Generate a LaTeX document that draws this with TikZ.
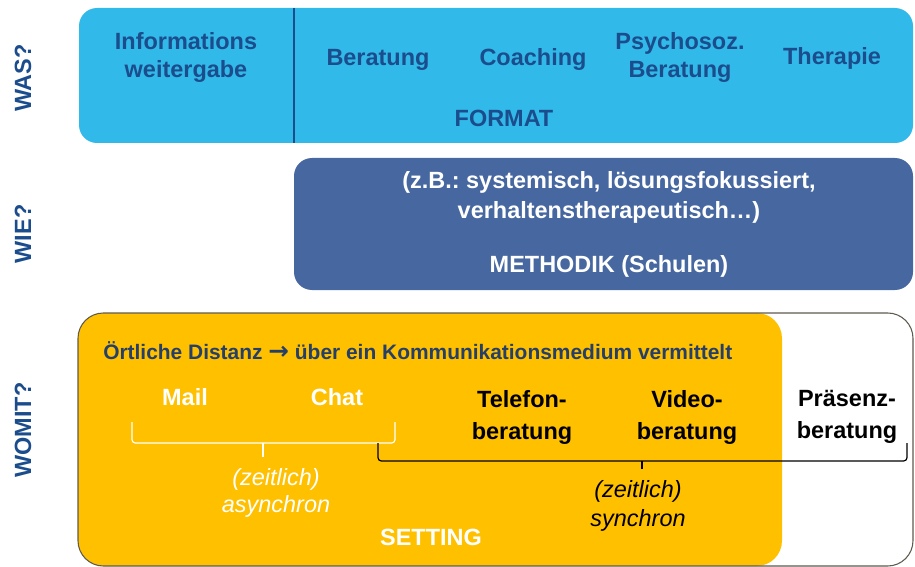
\documentclass[tikz,border=0pt]{standalone}
\usepackage{fontspec}
\setmainfont{Liberation Sans}
\newfontfamily\arrowfont{DejaVu Sans}
\definecolor{lblue}{HTML}{31B9E9}
\definecolor{dblue}{HTML}{46679F}
\definecolor{tblue}{HTML}{1B4C8C}
\definecolor{nblue}{HTML}{263F68}
\definecolor{gelb}{HTML}{FFC000}
\definecolor{rim}{HTML}{5E5A50}
\begin{document}
\frenchspacing
\begin{tikzpicture}[x=0.75pt,y=-0.75pt,
  lbl/.style={font=\fontsize{17.6}{21}\selectfont\bfseries, align=center, inner sep=0pt},
  blk/.style={font=\fontsize{17.6}{24}\selectfont\bfseries, align=center, inner sep=0pt, text=black},
  itl/.style={font=\fontsize{17.6}{20}\selectfont\itshape, align=center, inner sep=0pt},
  side/.style={font=\fontsize{17.6}{21}\selectfont\bfseries, text=tblue, rotate=90, inner sep=0pt},
  brace/.style={line width=0.9pt, rounded corners=2.5pt}]
\useasboundingbox (0,0) rectangle (915,567);
% boxes
\fill[lblue, rounded corners=13.5pt] (79,8) rectangle (913,143);
\draw[tblue, line width=1.6pt] (294,8) -- (294,143);
\fill[dblue, rounded corners=13.5pt] (294,158) rectangle (913,290);
\fill[white, rounded corners=19pt] (78,313) rectangle (913,566);
\fill[gelb, rounded corners=19pt] (78,313) rectangle (782,566);
\draw[rim, line width=0.8pt, rounded corners=19pt] (78,313) rectangle (913,566);
% side labels
\node[side] (was) at (23,78) {WAS?};
\node[side] (wie) at (23,234) {WIE?};
\node[side] (womit) at (23,430) {WOMIT?};
% format row
\node[lbl, text=tblue] (info) at (186,57) {Informations\\weitergabe};
\node[lbl, text=tblue, anchor=base] (ber) at (378,66) {Beratung};
\node[lbl, text=tblue, anchor=base] (coach) at (533,66) {Coaching};
\node[lbl, text=tblue] (psy) at (680,57) {Psychosoz.\\Beratung};
\node[lbl, text=tblue, anchor=base] (ther) at (832,65) {Therapie};
\node[lbl, text=tblue] (format) at (504,118) {FORMAT};
% methodik
\node[lbl, text=white, font=\fontsize{17.6}{22.5}\selectfont\bfseries] (zb) at (609,197) {(z.B.: systemisch, lösungsfokussiert,\\verhaltenstherapeutisch…)};
\node[lbl, text=white] (meth) at (609,266) {METHODIK (Schulen)};
% setting
\node[lbl, text=nblue, font=\fontsize{15.7}{19}\selectfont\bfseries, anchor=west] (ort) at (103,351) {Örtliche Distanz {\arrowfont\bfseries\fontsize{18.5}{19}\selectfont →} über ein Kommunikationsmedium vermittelt};
\node[lbl, text=white] (mail) at (185,397) {Mail};
\node[lbl, text=white] (chat) at (337,397) {Chat};
\node[blk] (tel) at (522,417) {Telefon-\\beratung};
\node[blk] (vid) at (687,417) {Video-\\beratung};
\node[blk] (pra) at (847,417) {Präsenz-\\beratung};
% braces
\coordinate (wa) at (132,422);
\coordinate (wb) at (395,422);
\coordinate (wm) at (263,443);
\draw[brace, white] (wa) -- (wa |- wm) -- (wb |- wm) -- (wb);
\draw[white, line width=0.9pt] (wm) -- ++(0,14);
\coordinate (ba) at (378,443);
\coordinate (bb) at (907,443);
\coordinate (bm) at (642,461);
\draw[brace, black] (ba) -- (ba |- bm) -- (bb |- bm) -- (bb);
\draw[black, line width=0.9pt] (bm) -- ++(0,8);
\node[itl, text=white] (async) at (276,493) {(zeitlich)\\asynchron};
\node[itl, text=black, font=\fontsize{17.6}{22}\selectfont\itshape] (sync) at (638,506) {(zeitlich)\\synchron};
\node[lbl, text=white] (setting) at (431,537) {SETTING};
\end{tikzpicture}
\end{document}
